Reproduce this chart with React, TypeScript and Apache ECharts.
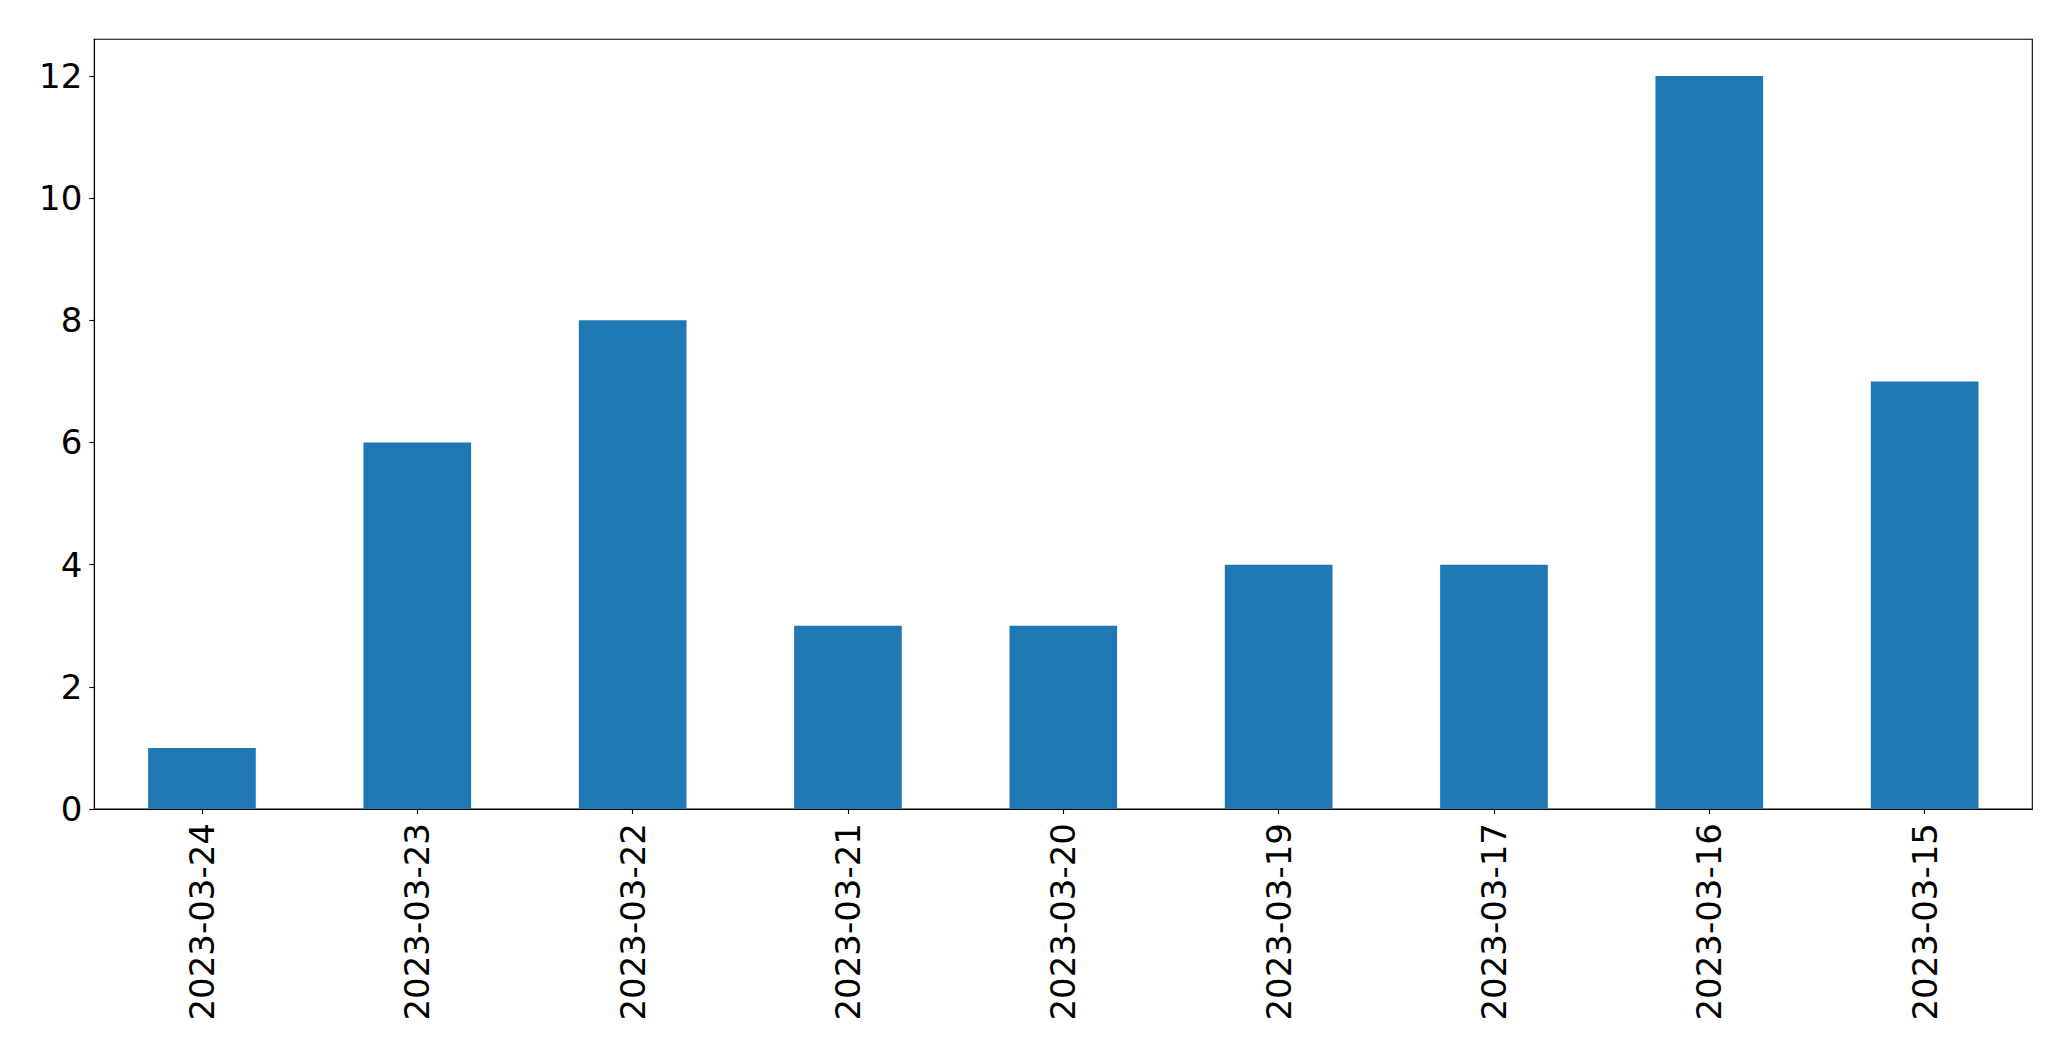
import React, { useEffect, useRef } from "react";
import * as echarts from "echarts";

const categories = [
  "2023-03-24",
  "2023-03-23",
  "2023-03-22",
  "2023-03-21",
  "2023-03-20",
  "2023-03-19",
  "2023-03-17",
  "2023-03-16",
  "2023-03-15",
];
const counts = [1, 6, 8, 3, 3, 4, 4, 12, 7];
const yTicks = [0, 2, 4, 6, 8, 10, 12];

export default function App() {
  const ref = useRef<HTMLDivElement>(null);
  useEffect(() => {
    if (!ref.current) return;
    const chart = echarts.init(ref.current, null, { renderer: "svg" });
    const font = "DejaVu Sans";
    chart.setOption({
      animation: false,
      backgroundColor: "#ffffff",
      grid: {
        left: 94.3,
        right: 38.7,
        top: 39.3,
        bottom: 252,
        show: true,
        borderColor: "#000000",
        borderWidth: 1.1,
        backgroundColor: "transparent",
        containLabel: false,
      },
      xAxis: {
        type: "category",
        data: categories,
        boundaryGap: true,
        axisLine: { show: true, lineStyle: { color: "#000", width: 1.1 } },
        axisTick: {
          show: true,
          alignWithLabel: true,
          length: 5,
          lineStyle: { color: "#000", width: 1.1 },
        },
        axisLabel: {
          rotate: 90,
          interval: 0,
          margin: 14,
          color: "#000",
          fontFamily: font,
          fontSize: 34,
        },
        splitLine: { show: false },
      },
      yAxis: {
        type: "value",
        min: 0,
        max: 12.6,
        interval: 2,
        axisLine: { show: true, lineStyle: { color: "#000", width: 1.1 } },
        axisTick: {
          show: true,
          length: 5,
          lineStyle: { color: "#000", width: 1.1 },
          customValues: yTicks,
        },
        axisLabel: {
          margin: 12,
          color: "#000",
          fontFamily: font,
          fontSize: 34,
          customValues: yTicks,
        },
        splitLine: { show: false },
      },
      series: [
        {
          type: "bar",
          data: counts,
          barWidth: "50%",
          itemStyle: { color: "#1f77b4" },
        },
      ],
    });
    return () => chart.dispose();
  }, []);
  return (
    <div
      ref={ref}
      style={{ position: "fixed", left: 0, top: 0, width: 2071, height: 1061 }}
    />
  );
}
